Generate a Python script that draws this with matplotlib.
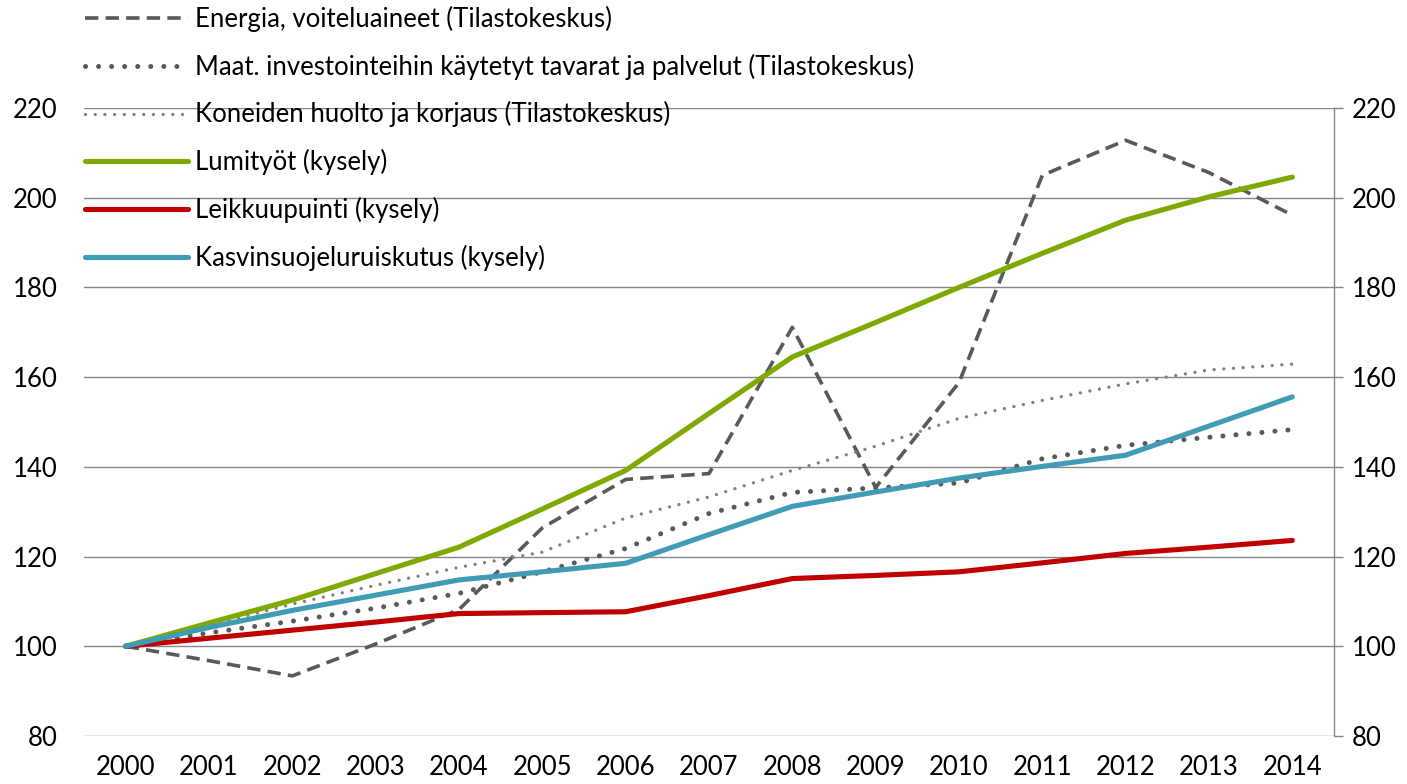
import matplotlib
matplotlib.use("Agg")
import matplotlib.pyplot as plt

plt.rcParams['font.family'] = ['Lato', 'DejaVu Sans']

years = list(range(2000, 2015))

# Indeksit, 2000 = 100
energia = [100, 96.8, 93.4, 100.5, 108.2, 126.4, 137.2, 138.5, 171.1, 135.4, 158.8, 205.0, 212.8, 205.6, 196.1]
investoinnit = [100, 103.0, 105.6, 108.5, 111.8, 116.6, 121.8, 129.6, 134.3, 135.3, 136.4, 141.8, 144.8, 146.6, 148.3]
huolto = [100, 104.7, 109.4, 113.6, 117.6, 121.0, 128.6, 133.3, 139.2, 144.6, 150.8, 154.8, 158.5, 161.6, 162.9]
lumityot = [100, 105.2, 110.3, 116.2, 122.1, 130.6, 139.2, 151.9, 164.5, 172.2, 180.0, 187.6, 195.0, 200.2, 204.6]
leikkuu = [100, 101.8, 103.6, 105.4, 107.3, 107.5, 107.7, 111.3, 115.1, 115.8, 116.6, 118.6, 120.7, 122.1, 123.6]
kasvinsuojelu = [100, 104.2, 108.0, 111.4, 114.8, 116.6, 118.5, 124.9, 131.2, 134.4, 137.5, 140.1, 142.6, 149.1, 155.6]

labels = [
    'Energia, voiteluaineet (Tilastokeskus)',
    'Maat. investointeihin käytetyt tavarat ja palvelut (Tilastokeskus)',
    'Koneiden huolto ja korjaus (Tilastokeskus)',
    'Lumityöt (kysely)',
    'Leikkuupuinti (kysely)',
    'Kasvinsuojeluruiskutus (kysely)',
]

fs = 18.5

fig = plt.figure(figsize=(14.07, 7.84), dpi=100)
ax = fig.add_axes([84 / 1407, 1 - 736 / 784, (1334 - 84) / 1407, (736 - 108) / 784])

ax.plot(years, energia, color='#595959', lw=2.6, linestyle=(0, (3.7, 2.0)), label=labels[0])
ax.plot(years, investoinnit, color='#595959', lw=3.6, linestyle=(0, (0.01, 2.6)),
        dash_capstyle='round', label=labels[1])
ax.plot(years, huolto, color='#808080', lw=2.4, linestyle=(0, (0.01, 2.9)),
        dash_capstyle='round', label=labels[2])
ax.plot(years, lumityot, color='#7FA800', lw=3.7, solid_capstyle='round', label=labels[3])
ax.plot(years, leikkuu, color='#C00000', lw=3.7, solid_capstyle='round', label=labels[4])
ax.plot(years, kasvinsuojelu, color='#409BB5', lw=3.7, solid_capstyle='round', label=labels[5])

ax.set_xlim(1999.5, 2014.5)
ax.set_ylim(80, 220)
ax.set_xticks(years)
ax.set_yticks(range(80, 221, 20))

ax.grid(axis='y', color='#868686', lw=1.0)
ax.set_axisbelow(True)
for side in ['left', 'top', 'bottom']:
    ax.spines[side].set_visible(False)
ax.spines['right'].set_color('#868686')
ax.spines['right'].set_linewidth(1.0)

ax.tick_params(axis='x', length=0, pad=14, labelsize=fs)
ax.tick_params(axis='y', left=False, right=False, length=0, pad=19, labelsize=fs)

# oikea akseli omilla merkeillään
sec = ax.secondary_yaxis('right')
sec.set_yticks(range(80, 221, 20))
sec.spines['right'].set_visible(False)
sec.tick_params(axis='y', length=6.5, width=1.0, color='#868686', pad=6, labelsize=fs)

ax.legend(loc='upper left', bbox_to_anchor=(85 / 1407, 1 - 6 / 784),
          bbox_transform=fig.transFigure, frameon=False, fontsize=fs,
          handlelength=4.0, handletextpad=0.3, labelspacing=0.84,
          borderpad=0, borderaxespad=0)

fig.savefig('out.png', dpi=100)
